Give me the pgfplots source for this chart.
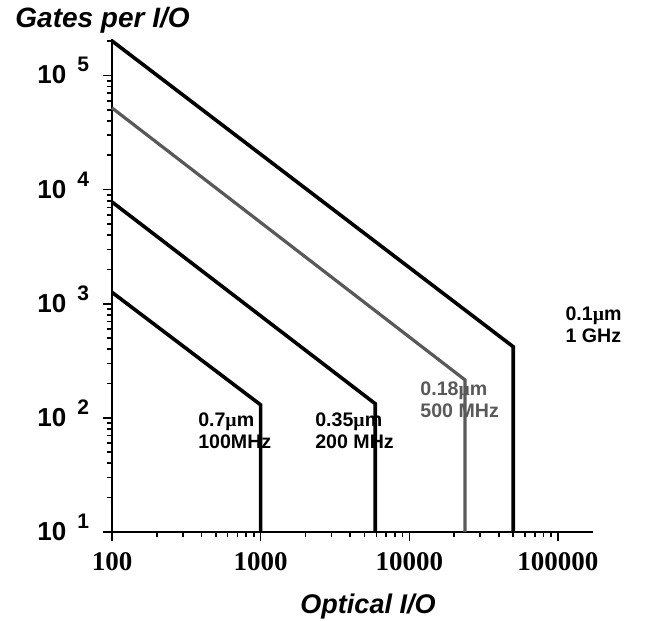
\documentclass[border=0pt]{standalone}
\usepackage{fontspec}
\setmainfont{Liberation Sans}
\newfontfamily\serifbold{Liberation Serif}[BoldFont={* Bold}]
\newfontfamily\symfont{Liberation Serif}
\usepackage{pgfplots}
\pgfplotsset{compat=1.18}
\newcommand\ylab[1]{\bfseries 10\hspace{5.5pt}\raisebox{6pt}{\fontsize{10.5}{12}\selectfont #1}}
\newcommand\mum{{\symfont µ}m}
\begin{document}
\begin{tikzpicture}
\useasboundingbox (-56pt,-44pt) rectangle (278pt,266pt);
\begin{axis}[
  xmode=log, ymode=log,
  scale only axis, width=240.5pt, height=246.5pt,
  at={(0,0)}, anchor=south west,
  xmin=100, xmax=172000, ymin=10, ymax=2.09e5,
  axis lines*=left,
  axis line style={line width=1pt},
  tick align=outside,
  major tick length=4.5pt, minor tick length=2.5pt,
  every tick/.style={line width=0.8pt, black},
  xtick={100,1000,10000,100000},
  xticklabels={100,1000,10000,100000},
  minor xtick={200,300,400,500,600,700,800,900,2000,3000,4000,5000,6000,7000,8000,9000,20000,30000,40000,50000,60000,70000,80000,90000},
  ytick={10,100,1000,10000,100000},
  yticklabels={\ylab{1},\ylab{2},\ylab{3},\ylab{4},\ylab{5}},
  minor ytick={20,30,40,50,60,70,80,90,200,300,400,500,600,700,800,900,2000,3000,4000,5000,6000,7000,8000,9000,20000,30000,40000,50000,60000,70000,80000,90000,200000},
  xticklabel style={font=\fontsize{13.5}{15}\serifbold\bfseries, yshift=-2pt},
  yticklabel style={font=\fontsize{13}{14}\selectfont, anchor=base east, yshift=-4.2pt, xshift=-3.5pt},
  clip=false,
]
\addplot[line width=1.8pt, black, line join=miter] coordinates {(100,2.01e5) (50000,420) (50000,10)};
\addplot[line width=1.6pt, black!65, line join=miter] coordinates {(100,52000) (23700,215) (23700,10)};
\addplot[line width=1.8pt, black, line join=miter] coordinates {(100,7800) (5900,133) (5900,10)};
\addplot[line width=1.8pt, black, line join=miter] coordinates {(100,1260) (1000,130) (1000,10)};
\node[anchor=west, align=left, inner sep=0pt, font=\fontsize{9.8}{11}\selectfont\bfseries] at (axis cs:111700,658) {0.1\mum\\1 GHz};
\node[anchor=west, align=left, inner sep=0pt, text=black!65, font=\fontsize{9.8}{11}\selectfont\bfseries] at (axis cs:11800,143) {0.18\mum\\500 MHz};
\node[anchor=west, align=left, inner sep=0pt, font=\fontsize{9.8}{11}\selectfont\bfseries] at (axis cs:2318,76.4) {0.35\mum\\200 MHz};
\node[anchor=west, align=left, inner sep=0pt, font=\fontsize{9.8}{11}\selectfont\bfseries] at (axis cs:378,76.4) {0.7\mum\\100MHz};
\end{axis}
\node[anchor=base west, inner sep=0pt, font=\fontsize{14}{16}\selectfont\bfseries\itshape] at (-48.5pt,252pt) {Gates per I/O};
\node[anchor=base, inner sep=0pt, font=\fontsize{13.5}{15}\selectfont\bfseries\itshape] at (128pt,-40.5pt) {Optical I/O};
\end{tikzpicture}
\end{document}
